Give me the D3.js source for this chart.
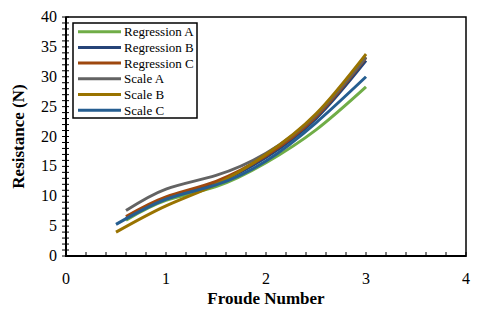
<!DOCTYPE html>
<html>
<head>
<meta charset="utf-8">
<script src="https://cdn.jsdelivr.net/npm/d3@7"></script>
<style>
  body { margin: 0; background: #fff; }
  svg text { font-family: "Liberation Serif", "Times New Roman", serif; fill: #000; }
</style>
</head>
<body>
<svg id="chart" width="480" height="311"></svg>
<script>
// series names and colours (legend order)
const seriesNames = ["Regression A", "Regression B", "Regression C", "Scale A", "Scale B", "Scale C"];
const seriesColors = ["#70ad47", "#264478", "#9e480e", "#636363", "#997300", "#255e91"];

// froude numbers
const xRegression = [0.6, 1.0, 1.5, 2.0, 2.5, 3.0];
const xScaleA = [0.6, 1.0, 1.5, 2.0, 2.5, 3.0];
const xScaleBC = [0.5, 1.0, 1.5, 2.0, 2.5, 3.0];

// resistance (N)
const regA = [6.0, 9.3, 11.6, 15.6, 21.1, 28.3];
const regB = [6.3, 9.6, 12.2, 16.5, 23.0, 32.7];
const regC = [6.6, 9.9, 12.5, 16.8, 23.3, 33.2];
const scaleA = [7.6, 11.2, 13.5, 17.2, 23.6, 33.3];
const scaleB = [4.0, 8.4, 12.0, 17.0, 23.8, 33.8];
const scaleC = [5.3, 9.5, 11.9, 15.9, 22.3, 30.0];

const xTicks = [0, 1, 2, 3, 4];
const yTicks = [0, 5, 10, 15, 20, 25, 30, 35, 40];

const seriesX = [xRegression, xRegression, xRegression, xScaleA, xScaleBC, xScaleBC];
const seriesY = [regA, regB, regC, scaleA, scaleB, scaleC];

const svg = d3.select("#chart");
const mLeft = 66, mRight = 466, mTop = 17, mBottom = 256;

const x = d3.scaleLinear().domain([0, 4]).range([mLeft, mRight]);
const y = d3.scaleLinear().domain([0, 40]).range([mBottom, mTop]);

// plot frame (top / right)
svg.append("rect")
    .attr("x", mLeft).attr("y", mTop)
    .attr("width", mRight - mLeft).attr("height", mBottom - mTop)
    .attr("fill", "none").attr("stroke", "#000").attr("stroke-width", 1.5);

// minor ticks
const g = svg.append("g");
g.selectAll(".ym")
    .data(d3.range(0, 41, 1))
    .enter().append("line")
    .attr("x1", mLeft - 4).attr("x2", mLeft + 3)
    .attr("y1", d => y(d)).attr("y2", d => y(d))
    .attr("stroke", "#000").attr("stroke-width", 1);
g.selectAll(".xm")
    .data(d3.range(0, 4.01, 0.2))
    .enter().append("line")
    .attr("x1", d => x(d)).attr("x2", d => x(d))
    .attr("y1", mBottom - 4).attr("y2", mBottom + 1)
    .attr("stroke", "#000").attr("stroke-width", 1);

// axis lines
svg.append("line").attr("x1", mLeft).attr("x2", mLeft).attr("y1", mTop).attr("y2", mBottom + 1)
    .attr("stroke", "#000").attr("stroke-width", 2);
svg.append("line").attr("x1", mLeft - 1).attr("x2", mRight).attr("y1", mBottom).attr("y2", mBottom)
    .attr("stroke", "#000").attr("stroke-width", 2);

// tick labels
svg.selectAll(".yl")
    .data(yTicks)
    .enter().append("text")
    .attr("x", mLeft - 9).attr("y", d => y(d) + 5)
    .attr("text-anchor", "end")
    .style("font-size", "16px")
    .text(d => d);
svg.selectAll(".xl")
    .data(xTicks)
    .enter().append("text")
    .attr("x", d => x(d)).attr("y", mBottom + 28)
    .attr("text-anchor", "middle")
    .style("font-size", "16px")
    .text(d => d);

// axis titles
svg.append("text")
    .attr("x", x(2)).attr("y", 304)
    .attr("text-anchor", "middle")
    .style("font-size", "17px").style("font-weight", "bold")
    .text("Froude Number");
svg.append("text")
    .attr("transform", `translate(24,${(mTop + mBottom) / 2}) rotate(-90)`)
    .attr("text-anchor", "middle")
    .style("font-size", "17px").style("font-weight", "bold")
    .text("Resistance (N)");

// lines
const line = d3.line()
    .x(d => x(d[0]))
    .y(d => y(d[1]))
    .curve(d3.curveNatural);

seriesNames.forEach((name, i) => {
    const pts = seriesX[i].map((v, j) => [v, seriesY[i][j]]);
    svg.append("path")
        .datum(pts)
        .attr("d", line)
        .attr("fill", "none")
        .attr("stroke", seriesColors[i])
        .attr("stroke-width", 3);
});

// legend
const lg = svg.append("g");
lg.append("rect")
    .attr("x", 73).attr("y", 23).attr("width", 124).attr("height", 95)
    .attr("fill", "#fff").attr("stroke", "#000").attr("stroke-width", 1.5);
seriesNames.forEach((name, i) => {
    const cy = 31.7 + i * 15.7;
    lg.append("line")
        .attr("x1", 78).attr("x2", 121).attr("y1", cy).attr("y2", cy)
        .attr("stroke", seriesColors[i]).attr("stroke-width", 3);
    lg.append("text")
        .attr("x", 124).attr("y", cy + 4.5)
        .style("font-size", "13px")
        .text(name);
});
</script>
</body>
</html>
